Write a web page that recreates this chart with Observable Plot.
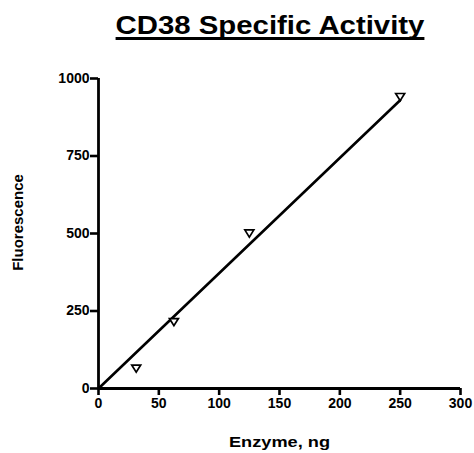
<!DOCTYPE html>
<html><head><meta charset="utf-8">
<script src="https://cdn.jsdelivr.net/npm/d3@7"></script>
<script src="https://cdn.jsdelivr.net/npm/@observablehq/plot@0.6"></script>
<style>
body{margin:0;background:#fff;}
#wrap{position:relative;width:474px;height:453px;font-family:"Liberation Sans",Arial,sans-serif;}
#title{position:absolute;left:138px;width:264px;top:11px;text-align:center;font-weight:bold;font-size:25px;line-height:29px;text-decoration:underline;text-decoration-thickness:3px;text-underline-offset:3px;text-decoration-skip-ink:none;color:#000;transform:scaleX(1.174);transform-origin:center;white-space:nowrap;}
svg text{font-weight:bold;}
</style></head><body>
<div id="wrap"><div id="title">CD38 Specific Activity</div></div>
<script>
const enzyme = [31.25, 62.5, 125, 250];
const fluorescence = [64, 214, 500, 940];
const fitX = [0, 250];
const fitY = [0, 930];
const xTicks = [0, 50, 100, 150, 200, 250, 300];
const yTicks = [0, 250, 500, 750, 1000];

const pts = enzyme.map((x, i) => ({x, y: fluorescence[i]}));
const fit = fitX.map((x, i) => ({x, y: fitY[i]}));

const downTriangle = {
  draw(ctx, size) {
    const s = Math.sqrt(size) * 1.1;
    const h = s * 0.8;
    ctx.moveTo(-s / 2, -h / 2);
    ctx.lineTo(s / 2, -h / 2);
    ctx.lineTo(0, h / 2);
    ctx.closePath();
  }
};

const chart = Plot.plot({
  width: 474,
  height: 453,
  marginLeft: 98,
  marginRight: 14,
  marginTop: 78,
  marginBottom: 65,
  style: {fontFamily: "Liberation Sans, Arial, sans-serif", fontWeight: "bold", fontSize: "14px", color: "#000", background: "#fff"},
  x: {domain: [0, 300]},
  y: {domain: [0, 1000]},
  marks: [
    Plot.axisX({ticks: xTicks, tickSize: 7, strokeWidth: 2.6, tickPadding: 3, fontSize: 14, fontWeight: "bold", tickFormat: d3.format("d"), label: null}),
    Plot.axisY({ticks: yTicks, tickSize: 8, strokeWidth: 2.6, tickPadding: 1, fontSize: 14, fontWeight: "bold", tickFormat: d3.format("d"), label: null}),
    Plot.ruleY([0], {x1: 0, x2: 300, strokeWidth: 2.8, stroke: "#000"}),
    Plot.ruleX([0], {y1: 0, y2: 1000, strokeWidth: 2.8, stroke: "#000"}),
    Plot.line(fit, {x: "x", y: "y", stroke: "#000", strokeWidth: 2.6}),
    Plot.dot(pts, {x: "x", y: "y", symbol: downTriangle, r: 4.6, stroke: "#000", strokeWidth: 1.7, fill: "#fff"}),
    Plot.text(["Enzyme, ng"], {frameAnchor: "bottom", textAnchor: "middle", lineAnchor: "middle", dy: 54, fontSize: 15, fontWeight: "bold", className: "xlab"}),
    Plot.text(["Fluorescence"], {frameAnchor: "left", textAnchor: "middle", lineAnchor: "middle", dx: -80, dy: -11, rotate: -90, fontSize: 15, fontWeight: "bold", className: "ylab"})
  ]
});
d3.select(chart).selectAll(".xlab text").attr("textLength", 101).attr("lengthAdjust", "spacingAndGlyphs");
document.getElementById("wrap").appendChild(chart);
</script>
</body></html>
